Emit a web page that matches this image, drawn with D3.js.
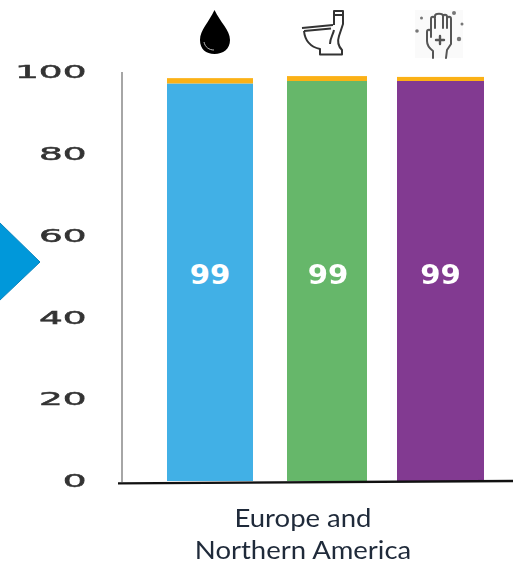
<!DOCTYPE html>
<html>
<head>
<meta charset="utf-8">
<script src="https://cdn.jsdelivr.net/npm/d3@7"></script>
<style>
  html, body { margin: 0; padding: 0; background: #fff; overflow: hidden; }
  svg { display: block; filter: blur(0.45px); }
</style>
</head>
<body>
<div id="chart"></div>
<script>
// Data
var services = ["Drinking water", "Sanitation", "Hygiene"];
var safeValues = [97.2, 97.8, 97.8];
var basicValues = [1.3, 1.2, 1.0];
var barLabels = ["99", "99", "99"];
var yTicks = [0, 20, 40, 60, 80, 100];
var regionLines = ["Europe and", "Northern America"];
var barColors = ["#41b0e6", "#66b76a", "#823a91"];

// Placement
var width = 513,
  height = 564,
  yBase = 481,
  yTop = 72;

var y = d3.scaleLinear().domain([0, 100]).range([yBase, yTop]);
var xLeft = d3.scaleOrdinal().domain(services).range([167, 287, 397]);
var barWidth = d3.scaleOrdinal().domain(services).range([86, 80, 87]);

var svg = d3.select("#chart").append("svg")
  .attr("width", width)
  .attr("height", height);

// blue arrow cut by the left edge
svg.append("path")
  .attr("d", "M-1,222L40,262L-1,301Z")
  .attr("fill", "#0098da")
  .attr("stroke", "#0a84bd")
  .attr("stroke-width", 1);

// bars
var bars = svg.append("g").selectAll("g")
  .data(services)
  .enter().append("g");

bars.append("rect")
  .attr("x", function(d) { return xLeft(d); })
  .attr("width", function(d) { return barWidth(d); })
  .attr("y", function(d, i) { return y(safeValues[i]); })
  .attr("height", function(d, i) { return yBase - y(safeValues[i]); })
  .attr("fill", function(d, i) { return barColors[i]; });

bars.append("rect")
  .attr("x", function(d) { return xLeft(d); })
  .attr("width", function(d) { return barWidth(d); })
  .attr("y", function(d, i) { return y(safeValues[i] + basicValues[i]); })
  .attr("height", function(d, i) { return y(safeValues[i]) - y(safeValues[i] + basicValues[i]); })
  .attr("fill", "#fbb116");

// value labels, stretched wide like the tick labels
bars.append("text")
  .attr("transform", function(d, i) {
    return "translate(" + (xLeft(d) + barWidth(d) / 2 + (i == 1 ? 1 : 0)) + ",284) scale(1.08,1)";
  })
  .attr("text-anchor", "middle")
  .attr("font-family", "DejaVu Sans")
  .attr("font-weight", "bold")
  .attr("font-size", 27)
  .attr("fill", "#fff")
  .text(function(d, i) { return barLabels[i]; });

// y axis
var yAxis = d3.axisLeft(y).tickValues(yTicks).tickSize(0).tickPadding(0);
var axisG = svg.append("g").call(yAxis);
axisG.select(".domain").remove();
axisG.selectAll(".tick text")
  .attr("transform", "translate(86.5,0) scale(2.08,1)")
  .attr("x", 0)
  .attr("dy", "0.32em")
  .attr("text-anchor", "end")
  .attr("font-family", "DejaVu Sans")
  .attr("font-size", 18)
  .attr("fill", "#333")
  .attr("stroke", "#333")
  .attr("stroke-width", 0.5);

svg.append("line")
  .attr("x1", 122).attr("x2", 122)
  .attr("y1", y(100)).attr("y2", yBase + 1)
  .attr("stroke", "#a6a6a6")
  .attr("stroke-width", 2);

svg.append("line")
  .attr("x1", 118).attr("x2", 513)
  .attr("y1", yBase + 2.4).attr("y2", yBase)
  .attr("stroke", "#111")
  .attr("stroke-width", 2.4);

// region label
svg.append("g").selectAll("text")
  .data(regionLines)
  .enter().append("text")
  .attr("transform", function(d, i) {
    return "translate(303," + (527 + i * 31.5) + ") scale(1.1,1)";
  })
  .attr("text-anchor", "middle")
  .attr("font-family", "Lato")
  .attr("font-size", 25)
  .attr("fill", "#1f2a3a")
  .text(function(d) { return d; });

// icons
var icons = svg.append("g");

// drop
icons.append("path")
  .attr("d", "M214.5,10C209,22 200,30 200,40C200,49 206,54 214.5,54C223,54 230,49 230,40C230,30 220,22 214.5,10Z")
  .attr("fill", "#000");
icons.append("path")
  .attr("d", "M204,42C205,47 209,50 214,50")
  .attr("fill", "none").attr("stroke", "#bbb").attr("stroke-width", 1);

// toilet
var toilet = icons.append("g")
  .attr("fill", "none").attr("stroke", "#333").attr("stroke-width", 2)
  .attr("stroke-linejoin", "round");
toilet.append("path").attr("d", "M302,28L333,25");
toilet.append("path").attr("d", "M304,31L331,28.5");
toilet.append("path").attr("d", "M304,31C305,41 311,47 320,49L320,54.5L342,54.5L342,50C338,46 337,42 339,36L343,24L343,11L334,11L334,25");
toilet.append("path").attr("d", "M334,15L343,15");
toilet.append("path").attr("d", "M330,44C330,38 333,35 334,30");

// hand
icons.append("rect")
  .attr("x", 415).attr("y", 10).attr("width", 48).attr("height", 48)
  .attr("fill", "#fafafa");
var hand = icons.append("g")
  .attr("fill", "none").attr("stroke", "#555").attr("stroke-width", 2)
  .attr("stroke-linejoin", "round").attr("stroke-linecap", "round");
hand.append("path").attr("d", "M433,58L433,51C429,48 427,45 427,41L427,32C427,29 431,29 431,32L431,37M431,37L431,19C431,16 435,16 435,19L435,28M435,18L435,16C435,13 443,13 443,16L443,28M443,17C443,14 447,14 447,17L447,28M447,19C447,16 451,16 451,19L451,44L447,50L446,58");
hand.append("path").attr("d", "M440,36L440,44M436,40L444,40").attr("stroke-width", 2.4);
hand.append("g").selectAll("circle")
  .data([[421.5, 18, 1.5], [417, 31, 1.8], [454, 13, 2], [462, 24, 1.5], [459, 39, 2.2]])
  .enter().append("circle")
  .attr("cx", function(d) { return d[0]; })
  .attr("cy", function(d) { return d[1]; })
  .attr("r", function(d) { return d[2]; })
  .attr("fill", "#777").attr("stroke", "none");
</script>
</body>
</html>
